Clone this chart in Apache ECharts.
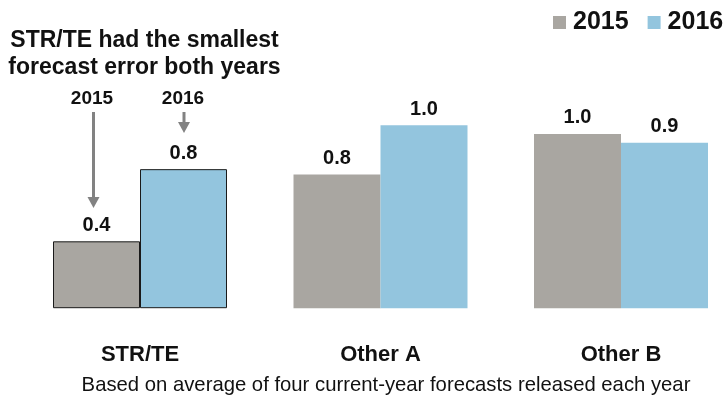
<!DOCTYPE html>
<html><head><meta charset="utf-8">
<script src="https://cdn.jsdelivr.net/npm/echarts@6/dist/echarts.min.js"></script>
<style>html,body{margin:0;padding:0;background:#fff;overflow:hidden}#c{width:726px;height:398px}</style>
</head><body><div id="c"></div>
<script>
const categories = ['STR/TE', 'Other A', 'Other B'];
const seriesNames = ['2015', '2016'];
const values2015 = [0.38, 0.76, 0.99];
const values2016 = [0.79, 1.04, 0.94];
const colors = ['#a9a6a1', '#93c5de'];
const FONT = '"Liberation Sans", Arial, Helvetica, sans-serif';

function mk(vals) {
  return vals.map((v, i) => i === 0
    ? { value: v, itemStyle: { borderColor: '#1a1a1a', borderWidth: 1 } }
    : v);
}

const chart = echarts.init(document.getElementById('c'), null, { renderer: 'canvas' });
const gray = '#828282';
const labelCfg = { show: true, position: 'top', distance: 6, fontFamily: FONT, fontSize: 20, fontWeight: 'bold', color: '#111',
  formatter: p => p.value.toFixed(1) };
chart.setOption({
  animation: false,
  textStyle: { fontFamily: FONT },
  legend: {
    data: seriesNames,
    left: 553, top: 10, padding: 0,
    itemWidth: 13, itemHeight: 13, itemGap: 19,
    icon: 'rect',
    textStyle: { fontFamily: FONT, fontSize: 25, fontWeight: 'bold', color: '#111', padding: [0, 0, 0, 2] }
  },
  grid: { left: 19.75, width: 721.5, top: 97, height: 211.2, outerBoundsMode: 'none' },
  xAxis: {
    type: 'category', data: categories,
    axisLine: { show: false }, axisTick: { show: false },
    axisLabel: { margin: 36, fontFamily: FONT, fontSize: 22, fontWeight: 'bold', color: '#111' }
  },
  yAxis: { type: 'value', min: 0, max: 1.2, show: false, splitLine: { show: false } },
  series: [
    { name: seriesNames[0], type: 'bar', data: mk(values2015), barWidth: 87, barGap: '0%',
      itemStyle: { color: colors[0] }, label: labelCfg },
    { name: seriesNames[1], type: 'bar', data: mk(values2016), barWidth: 87, barGap: '0%',
      itemStyle: { color: colors[1] }, label: labelCfg }
  ],
  graphic: [
    { type: 'text', x: 144.5, y: 27, style: { text: 'STR/TE had the smallest\nforecast error both years', fontFamily: FONT, fontSize: 23, fontWeight: 'bold', fill: '#111', align: 'center', lineHeight: 27 } },
    { type: 'text', x: 92, y: 99, style: { text: '2015', fontFamily: FONT, fontSize: 19, fontWeight: 'bold', fill: '#111', align: 'center', verticalAlign: 'middle' } },
    { type: 'text', x: 183, y: 99, style: { text: '2016', fontFamily: FONT, fontSize: 19, fontWeight: 'bold', fill: '#111', align: 'center', verticalAlign: 'middle' } },
    { type: 'line', shape: { x1: 93.5, y1: 112, x2: 93.5, y2: 198 }, style: { stroke: gray, lineWidth: 3 } },
    { type: 'polygon', shape: { points: [[87.5, 197], [99.5, 197], [93.5, 208]] }, style: { fill: gray } },
    { type: 'line', shape: { x1: 184, y1: 112, x2: 184, y2: 123 }, style: { stroke: gray, lineWidth: 3 } },
    { type: 'polygon', shape: { points: [[178, 122], [190, 122], [184, 133]] }, style: { fill: gray } },
    { type: 'text', x: 386, y: 385, style: { text: 'Based on average of four current-year forecasts released each year', fontFamily: FONT, fontSize: 20.3, fill: '#111', align: 'center', verticalAlign: 'middle' } }
  ]
});
</script></body></html>
